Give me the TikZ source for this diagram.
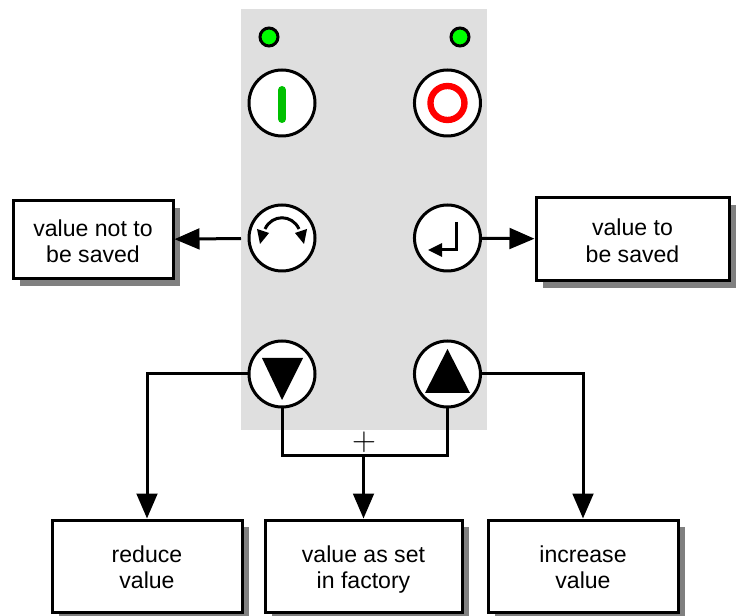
\documentclass[tikz,border=0pt]{standalone}
\usepackage{fontspec}
\setmainfont{Liberation Sans}
\usetikzlibrary{positioning,arrows.meta,shadows}
\definecolor{panelgray}{HTML}{DFDFDF}
\definecolor{shadowgray}{HTML}{808080}
\definecolor{ledgreen}{HTML}{00FF00}
\definecolor{bargreen}{HTML}{00C000}
\tikzset{
	line/.style={line width=2.25pt,line join=miter},
	link/.style={line,-{Triangle[length=18.75pt,width=15.5pt]}},
	button/.style={circle,draw,line width=2.25pt,fill=white,minimum size=49.5pt,inner sep=0pt},
	led/.style={circle,draw,line width=2.25pt,fill=ledgreen,minimum size=13.5pt,inner sep=0pt},
	label/.style={draw,line width=2.25pt,fill=white,align=center,text height=34pt,text depth=0pt,font=\fontsize{17.3}{19.7}\selectfont,
		drop shadow={shadow xshift=5.6pt,shadow yshift=-5.6pt,fill=shadowgray,opacity=1}},
}
\begin{document}
\begin{tikzpicture}[x=0.75pt,y=-0.75pt,on grid]
	\useasboundingbox (0,0) rectangle (739,616);
	\fill[panelgray] (241,9) rectangle (487,430);
	%
	\node[led] (d1) at (269,37) {};
	\node[led] (d2) at (460,37) {};
	\node[button] (b1) at (282,103) {};
	\node[button,right=124.1pt of b1] (b2) {};
	\node[button,below=101.25pt of b1] (b3) {};
	\node[button,right=124.1pt of b3] (b4) {};
	\node[button,below=102pt of b3] (b5) {};
	\node[button,right=124.1pt of b5] (b6) {};
	%
	\node[label,minimum width=120pt,minimum height=58.5pt] (t1) at (93,240) {value not to\\be saved};
	\node[label,minimum width=144.75pt,minimum height=62.25pt] (t2) at (632.5,239.5) {value to\\be saved};
	\node[label,minimum width=142.5pt,minimum height=69pt] (t3) at (147,566) {reduce\\value};
	\node[label,minimum width=147.75pt,minimum height=69pt] (t4) at (363.5,566) {value as set\\in factory};
	\node[label,minimum width=142.5pt,minimum height=69pt] (t5) at (583,566) {increase\\value};
	%
	\draw[bargreen,line width=6pt,line cap=round] (282,90) -- (282,119);
	\draw[red,line width=4.75pt] (b2) circle (17);
	%
	\draw[line width=2.25pt] (265,229) .. controls (272,214) and (292,214) .. (299,229);
	\fill (257,229) -- (269,233) -- (260,244) -- cycle;
	\fill (307,229) -- (295,233) -- (304,244) -- cycle;
	\draw[line width=2.25pt] (456,222) -- (456,250) -- (440,250);
	\fill (428,250) -- (442,243) -- (442,257) -- cycle;
	\fill (262,358) -- (303,358) -- (282,400) -- cycle;
	\fill (447.5,349) -- (425,393) -- (470,393) -- cycle;
	%
	\coordinate (c1) at (241,238.5);
	\coordinate (c2) at (363.5,456);
	\draw[link] (c1) -- (t1);
	\draw[link] (b4) -- (t2);
	\draw[link] (b5) -| (t3);
	\draw[link] (b6) -| (t5);
	\draw[line] (b5) |- (c2) -| (b6);
	\draw[link] (c2) -- (t4);
	\node[font=\fontsize{24}{24}\selectfont] (p1) at (364,442) {$+$};
\end{tikzpicture}
\end{document}
